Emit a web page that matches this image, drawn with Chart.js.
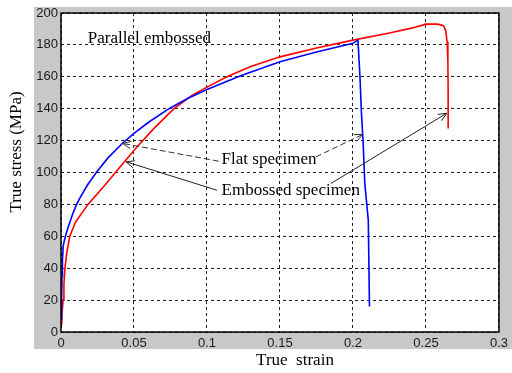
<!DOCTYPE html>
<html>
<head>
<meta charset="utf-8">
<script src="https://cdn.jsdelivr.net/npm/chart.js@4.4.1/dist/chart.umd.min.js"></script>
<style>
  html, body { margin: 0; padding: 0; background: #fff; }
  #wrap { width: 512px; height: 373px; }
</style>
</head>
<body>
<div id="wrap"><canvas id="c" width="512" height="373"></canvas></div>
<script>
// flat specimen (blue) : true strain / true stress (MPa)
const flatStrain = [0, 0.0004, 0.0007, 0.001, 0.0015, 0.003, 0.005, 0.008, 0.0107, 0.0129, 0.018, 0.0242, 0.032, 0.0423, 0.05, 0.06, 0.074, 0.087, 0.1, 0.1226, 0.15, 0.175, 0.2, 0.2034, 0.2048, 0.2057, 0.207, 0.2081, 0.2105, 0.2113];
const flatStress = [8, 20, 35, 45, 54, 60, 66, 74, 80, 84, 92, 100, 109, 118.5, 124.5, 131.5, 140, 146.5, 152, 160.5, 169.5, 175.5, 181, 183, 160, 139, 118, 93, 70, 16];

// embossed specimen (red)
const embStrain = [0, 0.0005, 0.001, 0.0014, 0.002, 0.0027, 0.004, 0.006, 0.01, 0.0185, 0.03, 0.04, 0.052, 0.064, 0.0774, 0.09, 0.1, 0.1136, 0.13, 0.15, 0.175, 0.2, 0.225, 0.24, 0.25, 0.258, 0.262, 0.2635, 0.2645, 0.265, 0.2652, 0.2652];
const embStress = [5, 10, 15, 20, 30, 40, 50, 60, 69, 80, 92, 103, 116, 128, 140, 148.5, 153.5, 160, 166.5, 172.5, 178, 183, 187.5, 190.5, 193, 193, 192, 189, 182, 170, 150, 127.6];

const xTicks = [0, 0.05, 0.1, 0.15, 0.2, 0.25, 0.3];
const yTicks = [0, 20, 40, 60, 80, 100, 120, 140, 160, 180, 200];

// annotation texts and arrows, in data units
const notes = [
  { text: "Parallel embossed", x: 0.0183, y: 181 },
  { text: "Flat specimen", x: 0.110, y: 105.2 },
  { text: "Embossed specimen", x: 0.110, y: 85.8 },
];
const arrows = [
  { from: [0.108, 107.1], to: [0.0423, 118.2], dashed: true },
  { from: [0.1746, 109.8], to: [0.2067, 123.9], dashed: true },
  { from: [0.1068, 88.9], to: [0.0446, 106.7], dashed: false },
  { from: [0.1848, 93.1], to: [0.2642, 137.1], dashed: false },
];

const SERIF = '"Liberation Serif", "Times New Roman", serif';
const SANS = '"Liberation Sans", Arial, sans-serif';

function pts(xs, ys) {
  return xs.map((x, i) => ({ x: x, y: ys[i] }));
}

function drawArrow(ctx, x1, y1, x2, y2, dashed) {
  ctx.save();
  ctx.strokeStyle = dashed ? "#333" : "#222";
  ctx.lineWidth = 1;
  ctx.setLineDash(dashed ? [6, 3] : []);
  ctx.beginPath();
  ctx.moveTo(x1, y1);
  ctx.lineTo(x2, y2);
  ctx.stroke();
  ctx.setLineDash([]);
  const ang = Math.atan2(y1 - y2, x1 - x2);
  const len = 9, spread = 0.42;
  ctx.beginPath();
  ctx.moveTo(x2 + len * Math.cos(ang + spread), y2 + len * Math.sin(ang + spread));
  ctx.lineTo(x2, y2);
  ctx.lineTo(x2 + len * Math.cos(ang - spread), y2 + len * Math.sin(ang - spread));
  ctx.stroke();
  ctx.restore();
}

const framePlugin = {
  id: "frame",
  beforeDraw(chart) {
    const { ctx, chartArea: a } = chart;
    ctx.save();
    ctx.fillStyle = "#fff";
    ctx.fillRect(0, 0, chart.width, chart.height);
    ctx.fillStyle = "#c8c8c8";
    ctx.fillRect(34, 7, chart.width - 34, 342);
    ctx.fillStyle = "#fff";
    ctx.fillRect(a.left, a.top, a.right - a.left, a.bottom - a.top);
    ctx.restore();
  },
  afterDraw(chart) {
    const { ctx, chartArea: a } = chart;
    const sx = chart.scales.x, sy = chart.scales.y;
    ctx.save();
    // box
    ctx.strokeStyle = "#000";
    ctx.lineWidth = 1.5;
    ctx.strokeRect(a.left, a.top, a.right - a.left, a.bottom - a.top);

    // notes
    ctx.fillStyle = "#000";
    ctx.font = "17px " + SERIF;
    ctx.textAlign = "left";
    ctx.textBaseline = "alphabetic";
    notes.forEach(n => ctx.fillText(n.text, sx.getPixelForValue(n.x), sy.getPixelForValue(n.y)));
    arrows.forEach(r => drawArrow(ctx,
      sx.getPixelForValue(r.from[0]), sy.getPixelForValue(r.from[1]),
      sx.getPixelForValue(r.to[0]), sy.getPixelForValue(r.to[1]), r.dashed));

    // axis titles
    ctx.font = "17px " + SERIF;
    ctx.textAlign = "center";
    ctx.textBaseline = "middle";
    ctx.fillText("True  strain", 295, 361);
    ctx.translate(17, 152);
    ctx.rotate(-Math.PI / 2);
    ctx.fillText("True stress (MPa)", 0, 0);
    ctx.restore();
  },
};

const grid = {
  color: "#222",
  lineWidth: 1,
  drawTicks: false,
};
const border = { display: false, dash: [3, 3] };

new Chart(document.getElementById("c"), {
  type: "scatter",
  data: {
    datasets: [
      {
        label: "Flat specimen",
        data: pts(flatStrain, flatStress),
        showLine: true,
        borderColor: "#0000ff",
        borderWidth: 1.6,
        pointRadius: 0,
        tension: 0,
      },
      {
        label: "Embossed specimen",
        data: pts(embStrain, embStress),
        showLine: true,
        borderColor: "#ff0000",
        borderWidth: 1.6,
        pointRadius: 0,
        tension: 0,
      },
    ],
  },
  options: {
    responsive: false,
    animation: false,
    devicePixelRatio: 1,
    layout: { padding: { left: 0, top: 13, right: 9, bottom: 0 } },
    plugins: {
      legend: { display: false },
      tooltip: { enabled: false },
    },
    scales: {
      x: {
        type: "linear",
        min: 0,
        max: 0.3,
        afterBuildTicks: s => { s.ticks = xTicks.map(v => ({ value: v })); },
        afterFit: s => { s.height = 41; },
        ticks: {
          color: "#1a1a1a",
          font: { family: SANS, size: 13 },
          padding: 4,
          maxRotation: 0,
          callback: v => String(parseFloat(v.toFixed(2))),
        },
        grid: grid,
        border: border,
      },
      y: {
        type: "linear",
        min: 0,
        max: 200,
        afterBuildTicks: s => { s.ticks = yTicks.map(v => ({ value: v })); },
        afterFit: s => { s.width = 61; },
        ticks: {
          color: "#1a1a1a",
          font: { family: SANS, size: 13 },
          padding: 3,
          callback: v => String(v),
        },
        grid: grid,
        border: border,
      },
    },
  },
  plugins: [framePlugin],
});
</script>
</body>
</html>
